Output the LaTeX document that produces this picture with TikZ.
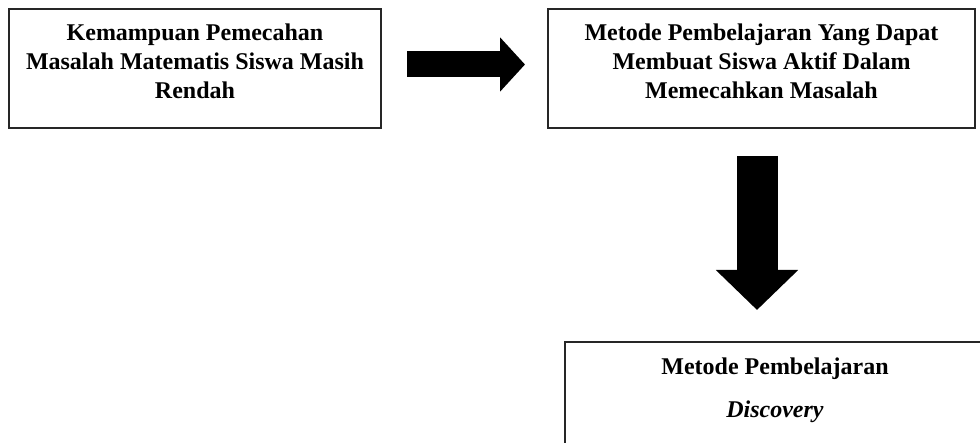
\documentclass[tikz,border=0pt]{standalone}
\usepackage{fontspec}
\setmainfont{Liberation Serif}
\usetikzlibrary{arrows.meta}

\begin{document}
\begin{tikzpicture}[x = 0.5pt, y = -0.5pt, line width = 1pt,
                        kotak/.style = {rectangle, draw = black!85, inner sep = 0pt, outer sep = 0pt},
                        teks/.style = {align = center, inner sep = 0pt, anchor = north,
                                       font = \fontsize{12}{14.5}\selectfont\bfseries},
                        panah/.style = {draw = black, shorten <= #1}]
      \useasboundingbox (0, 0) rectangle (980, 443);
      \clip (0, 0) rectangle (980, 443);

      \node [kotak, minimum width = 186pt, minimum height = 59.5pt] (masalah) at (195, 68.5){};
      \node [teks] (masalahteks) at (195, 22.7)
            {Kemampuan Pemecahan\\Masalah Matematis Siswa Masih\\Rendah};

      \node [kotak, minimum width = 213.5pt, minimum height = 59.5pt] (metode) at (761.5, 68.5){};
      \node [teks] (metodeteks) at (761.5, 22.7)
            {Metode Pembelajaran Yang Dapat\\Membuat Siswa Aktif Dalam\\Memecahkan Masalah};

      \node [kotak, minimum width = 210pt, minimum height = 60pt] (discovery) at (775, 402){};
      \node [teks] (discoveryteks) at (775, 356.7)
            {Metode Pembelajaran\\[7pt]\textit{Discovery}};

      \draw [panah = 13pt, line width = 13pt, shorten >= 11.5pt,
             -{Triangle[width = 26.5pt, length = 12.5pt]}]
            ([yshift = 2pt]masalah.east) -- ([yshift = 2pt]metode.west);
      \draw [panah = 14pt, line width = 20.5pt, shorten >= 16pt,
             -{Triangle[width = 40pt, length = 20pt]}]
            ([xshift = -2.25pt]metode.south) -- ([xshift = -2.25pt]metode.south |- discovery.north);
      \end{tikzpicture}
\end{document}
